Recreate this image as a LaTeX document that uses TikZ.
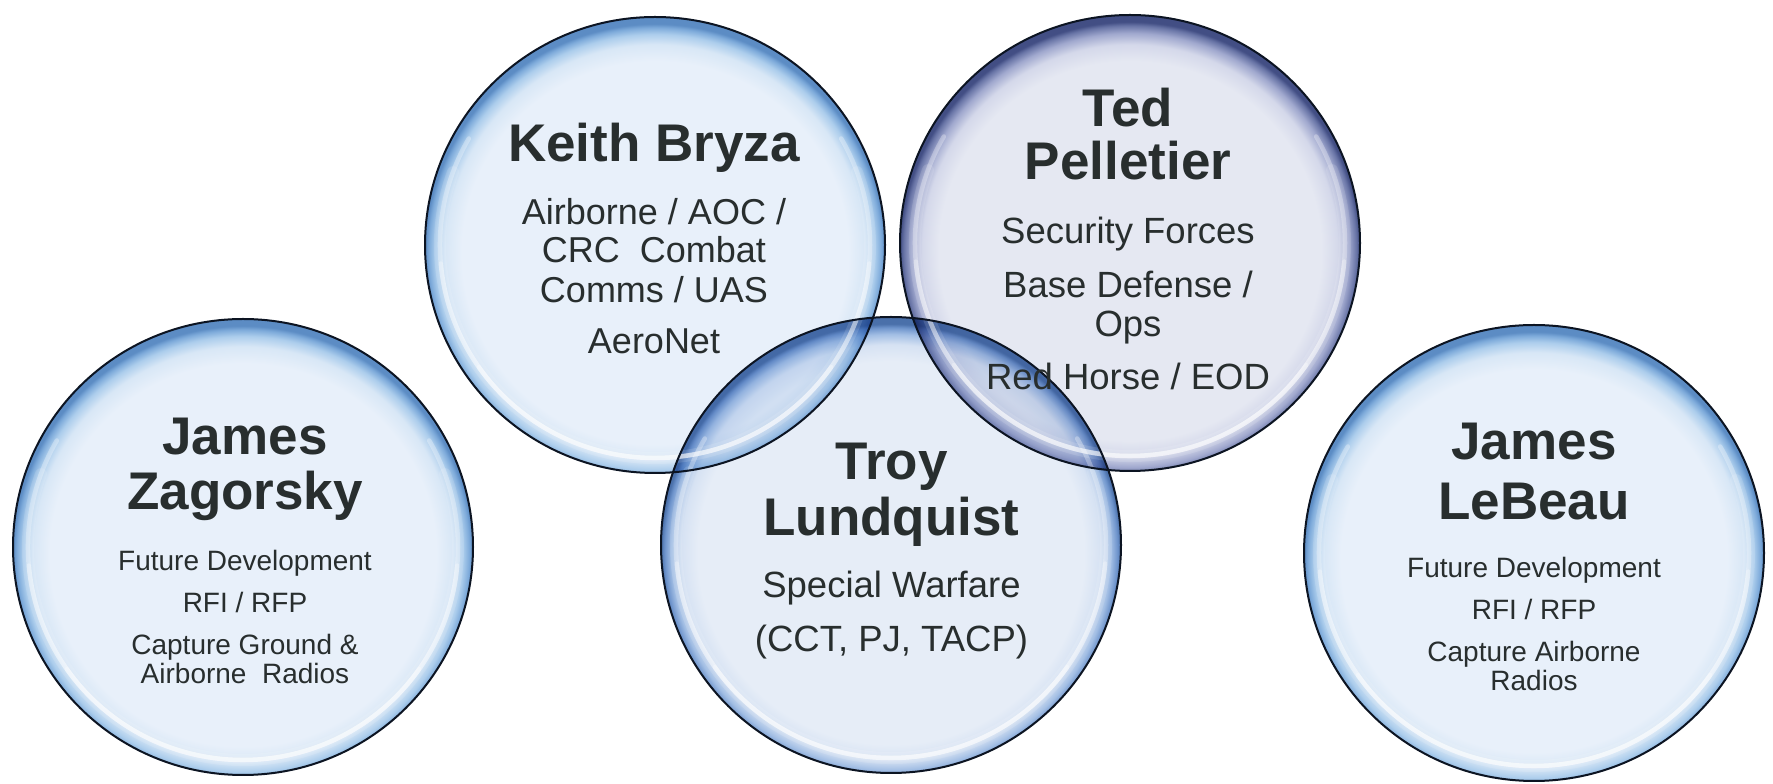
\documentclass[tikz,border=0pt]{standalone}
\usepackage{fontspec}
\setmainfont{Liberation Sans}
\definecolor{txt}{RGB}{40,46,46}
\definecolor{outl}{RGB}{12,20,34}
% blue bubbles
\definecolor{aIn}{RGB}{232,240,250}
\definecolor{aB}{RGB}{216,231,246}
\definecolor{aC}{RGB}{172,205,236}
\definecolor{aD}{RGB}{125,170,218}
\definecolor{aE}{RGB}{92,140,196}
% Ted bubble (navy)
\definecolor{tIn}{RGB}{229,232,242}
\definecolor{tB}{RGB}{212,216,234}
\definecolor{tC}{RGB}{160,168,206}
\definecolor{tD}{RGB}{104,116,166}
\definecolor{tE}{RGB}{66,78,132}
% Troy bubble
\definecolor{lIn}{RGB}{230,237,247}
\definecolor{lB}{RGB}{214,226,243}
\definecolor{lC}{RGB}{162,190,228}
\definecolor{lD}{RGB}{110,148,204}
\definecolor{lE}{RGB}{74,112,170}
\pgfdeclareradialshading{bubA}{\pgfpoint{0bp}{-1.5bp}}{color(0bp)=(aIn); color(21bp)=(aIn); color(22.8bp)=(aB); color(23.9bp)=(aC); color(24.6bp)=(aD); color(25bp)=(aE); color(50bp)=(aE)}
\pgfdeclareradialshading{bubT}{\pgfpoint{0bp}{-1.5bp}}{color(0bp)=(tIn); color(20.8bp)=(tIn); color(22.6bp)=(tB); color(23.8bp)=(tC); color(24.6bp)=(tD); color(25bp)=(tE); color(50bp)=(tE)}
\pgfdeclareradialshading{bubL}{\pgfpoint{0bp}{-1.5bp}}{color(0bp)=(lIn); color(21bp)=(lIn); color(22.8bp)=(lB); color(23.9bp)=(lC); color(24.6bp)=(lD); color(25bp)=(lE); color(50bp)=(lE)}
\tikzset{
  bubbleline/.style={draw=outl, line width=2pt},
  hilite/.style={draw=white, line width=4.5pt, line cap=round, opacity=0.3},
  glow/.style={draw=white, line width=12pt, line cap=round, opacity=0.12},
  namestyle/.style={anchor=base, inner sep=0pt, text=txt, font=\fontsize{53}{60}\selectfont\bfseries},
  bodyM/.style={anchor=base, inner sep=0pt, text=txt, font=\fontsize{36.5}{40}\selectfont},
  bodyK/.style={anchor=base, inner sep=0pt, text=txt, font=\fontsize{36}{40}\selectfont},
  bodyS/.style={anchor=base, inner sep=0pt, text=txt, font=\fontsize{28}{30}\selectfont},
}
\begin{document}
\begin{tikzpicture}[x=1pt,y=1pt]
\useasboundingbox (0,0) rectangle (1773,784);
\fill[white] (0,0) rectangle (1773,784);
\coordinate (ck) at (655,539);
\coordinate (ct) at (1130,541);
\coordinate (cl) at (891,239);
\coordinate (cz) at (243,237);
\coordinate (cb) at (1534,231);
\begin{scope}[blend mode=multiply]
  \shade[shading=bubA] (ck) ellipse [x radius=230, y radius=228];
  \shade[shading=bubT] (ct) ellipse [x radius=230, y radius=228];
  \shade[shading=bubL] (cl) ellipse [x radius=230, y radius=228];
  \shade[shading=bubA] (cz) ellipse [x radius=230, y radius=228];
  \shade[shading=bubA] (cb) ellipse [x radius=230, y radius=228];
\end{scope}
\foreach \c in {ck,ct,cl,cz,cb}{
  \draw[glow] (\c) ++(160:215 and 213) arc [start angle=160, end angle=380, x radius=215, y radius=213];
  \draw[hilite] (\c) ++(150:215 and 213) arc [start angle=150, end angle=390, x radius=215, y radius=213];
  \draw[hilite] (\c) ++(185:215 and 213) arc [start angle=185, end angle=355, x radius=215, y radius=213];
  \draw[hilite] (\c) ++(215:215 and 213) arc [start angle=215, end angle=325, x radius=215, y radius=213];
}
\foreach \c in {ck,ct,cl,cz,cb}{
  \draw[bubbleline] (\c) ellipse [x radius=230, y radius=228];
}
% Keith Bryza
\node[namestyle] (k1) at (654,622) {Keith Bryza};
\node[bodyK] (k2) at (654,559) {Airborne / AOC /};
\node[bodyK] (k3) at (654,521.3) {CRC~~Combat};
\node[bodyK] (k4) at (654,481.3) {Comms / UAS};
\node[bodyK] (k5) at (654,430) {AeroNet};
% Ted Pelletier
\node[namestyle] (t1) at (1128,657.3) {Ted};
\node[namestyle] (t2) at (1128,604) {Pelletier};
\node[bodyM] (t3) at (1128,540) {Security Forces};
\node[bodyM] (t4) at (1128,486) {Base Defense /};
\node[bodyM] (t5) at (1128,447.3) {Ops};
\node[bodyM] (t6) at (1128,394.7) {Red Horse / EOD};
% Troy Lundquist
\node[namestyle] (l1) at (891.5,304) {Troy};
\node[namestyle] (l2) at (891.5,248) {Lundquist};
\node[bodyM] (l3) at (891.5,186) {Special Warfare};
\node[bodyM] (l4) at (891.5,132.3) {(CCT, PJ, TACP)};
% James Zagorsky
\node[namestyle] (z1) at (245,329) {James};
\node[namestyle] (z2) at (245,274) {Zagorsky};
\node[bodyS] (z3) at (245,213) {Future Development};
\node[bodyS] (z4) at (245,171) {RFI / RFP};
\node[bodyS] (z5) at (245,129) {Capture Ground \&};
\node[bodyS] (z6) at (245,100) {Airborne~~Radios};
% James LeBeau
\node[namestyle] (b1) at (1534,324) {James};
\node[namestyle] (b2) at (1534,264) {LeBeau};
\node[bodyS] (b3) at (1534,206) {Future Development};
\node[bodyS] (b4) at (1534,164) {RFI / RFP};
\node[bodyS] (b5) at (1534,122) {Capture Airborne};
\node[bodyS] (b6) at (1534,93) {Radios};
\end{tikzpicture}
\end{document}
